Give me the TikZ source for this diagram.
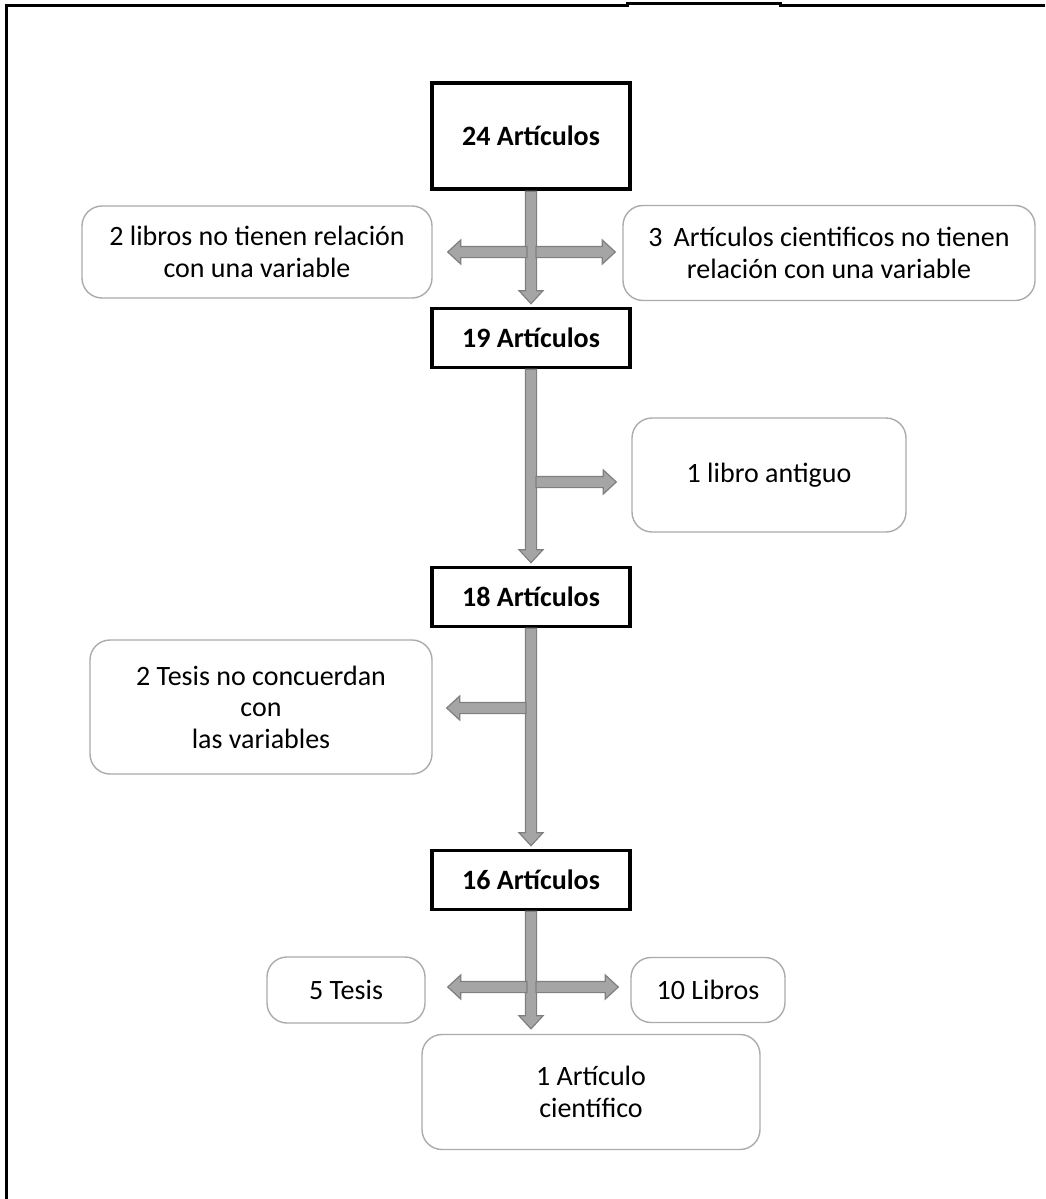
\documentclass[tikz,border=0pt]{standalone}
\usepackage{fontspec}
\setmainfont{Carlito}
\usepackage{tikz}
\usetikzlibrary{calc}
\definecolor{flechagris}{HTML}{A5A5A5}
\definecolor{bordegris}{HTML}{7F7F7F}
\definecolor{cajagris}{HTML}{ABABAB}
\tikzstyle{titulo}=[rectangle,draw=black,line width=1.8pt,fill=white,minimum width=99pt,minimum height=29.5pt,inner sep=0pt,font=\bfseries\fontsize{14}{16}\selectfont]
\tikzstyle{caja}=[rectangle,draw=cajagris,line width=0.7pt,rounded corners=10pt,align=center,inner sep=0pt,font=\fontsize{14}{15.8}\selectfont]
\tikzstyle{flecha}=[fill=flechagris,draw=bordegris,line width=0.6pt]
\tikzstyle{fat}=[to path={
    ($(\tikztostart)!2.8pt!90:(\tikztotarget)$) --
    ($(\tikztotarget)!6.5pt!(\tikztostart)!2.8pt!-90:(\tikztostart)$) --
    ($(\tikztotarget)!6.5pt!(\tikztostart)!6pt!-90:(\tikztostart)$) --
    (\tikztotarget) --
    ($(\tikztotarget)!6.5pt!(\tikztostart)!6pt!90:(\tikztostart)$) --
    ($(\tikztotarget)!6.5pt!(\tikztostart)!2.8pt!90:(\tikztostart)$) --
    ($(\tikztostart)!2.8pt!-90:(\tikztotarget)$) -- cycle}]

\begin{document}
\begin{tikzpicture}[x=0.5pt,y=-0.5pt]
    \useasboundingbox (0,0) rectangle (1045,1199);
    % outer frame, open at the bottom and right
    \draw[line width=1.5pt] (6,1199) -- (6,5) -- (627,5) -- (627,3) -- (780,3) -- (780,5) -- (1045,5);

    % First we draw the count boxes
    \node[titulo,line width=2.2pt,minimum height=53pt] (a24) at (531,136) {24 Artículos};
    \foreach \pos/ \name/ \num in {{(531,338)/a19/19},{(531,597)/a18/18},{(531,880)/a16/16}}
        \node[titulo] (\name) at \pos {\num{} Artículos};

    % then the excluded items
    \node[caja,minimum width=175pt,minimum height=46pt] (lib2) at (257,252)
        {2 libros no tienen relación\\con una variable};
    \node[caja,minimum width=206pt,minimum height=47.5pt] (art3) at (829,253)
        {3\, Artículos cientificos no tienen\\relación con una variable};
    \node[caja,minimum width=137pt,minimum height=57pt] (ant1) at (769,475) {1 libro antiguo};
    \node[caja,minimum width=171pt,minimum height=67pt] (tes2) at (261,707)
        {2 Tesis no concuerdan\\con\\las variables};
    \node[caja,minimum width=79pt,minimum height=33pt] (tes5) at (346,990) {5 Tesis};
    \node[caja,minimum width=77pt,minimum height=32.5pt] (lib10) at (708,990) {10 Libros};
    \node[caja,minimum width=169pt,minimum height=57.5pt] (art1) at (591,1092)
        {1 Artículo\\científico};

    % Connect boxes with block arrows
    \foreach \source/ \dest in {a24/a19, a19/a18, a18/a16}
        \path[flecha] (\source.south) to[fat] ($(\dest.north)+(0,-3)$);
    \path[flecha] (a16.south) to[fat] ($(a16.south |- art1.north)+(0,-5)$);

    \coordinate (c1) at (531,252);
    \coordinate (c2) at (531,482);
    \coordinate (c3) at (531,708);
    \coordinate (c4) at (531,987);
    \path[flecha] ($(c1)+(5,0)$) to[fat] ($(c1 -| art3.west)+(-7,0)$);
    \path[flecha] ($(c1)+(-4,0)$) to[fat] ($(c1 -| lib2.east)+(15,0)$);
    \path[flecha] ($(c2)+(5,0)$) to[fat] ($(c2 -| ant1.west)+(-15,0)$);
    \path[flecha] ($(c3)+(-5,0)$) to[fat] ($(c3 -| tes2.east)+(14,0)$);
    \path[flecha] ($(c4)+(5,0)$) to[fat] ($(c4 -| lib10.west)+(-12,0)$);
    \path[flecha] ($(c4)+(-4,0)$) to[fat] ($(c4 -| tes5.east)+(22,0)$);
\end{tikzpicture}
\end{document}
